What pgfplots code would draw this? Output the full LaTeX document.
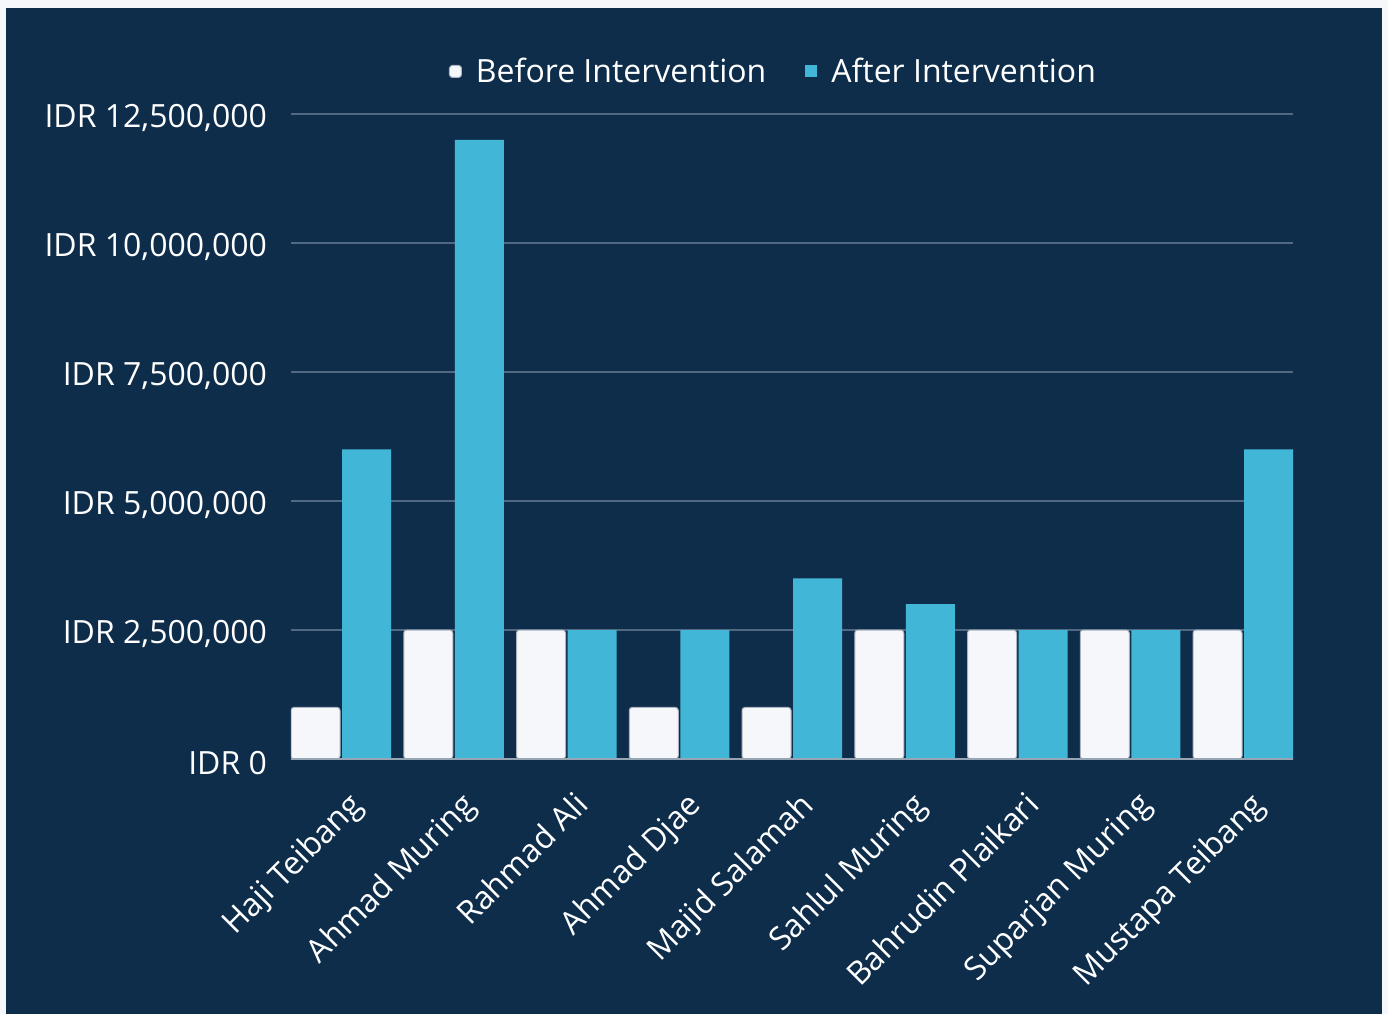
\documentclass[border=0pt]{standalone}
\usepackage{fontspec}
\setmainfont{Open Sans}
\usepackage{pgfplots}
\pgfplotsset{compat=1.18}
\definecolor{navy}{RGB}{14,45,75}
\definecolor{outer}{RGB}{245,247,250}
\definecolor{cyanbar}{RGB}{65,182,214}
\definecolor{whitebar}{RGB}{246,247,250}
\definecolor{gridc}{RGB}{80,104,130}
\definecolor{baredge}{RGB}{170,180,192}
\definecolor{basec}{RGB}{150,165,180}
\begin{document}
\begin{tikzpicture}
\useasboundingbox (0,0) rectangle (694pt,507pt);
\fill[outer] (0,0) rectangle (694pt,507pt);
\fill[navy] (3pt,0) rectangle (691pt,503pt);
\begin{axis}[
  at={(145.5pt,127.5pt)}, anchor=south west,
  scale only axis, width=501pt, height=322.5pt,
  xmin=-0.4435, xmax=8.4435, ymin=0, ymax=12500000,
  ybar=1pt, bar width=24.5pt,
  axis line style={draw=none},
  axis x line*=bottom, axis y line*=left,
  ymajorgrids, grid style={gridc, line width=1pt},
  major tick length=0pt,
  ytick={0,2500000,5000000,7500000,10000000,12500000},
  yticklabels={{IDR 0},{IDR 2,500,000},{IDR 5,000,000},{IDR 7,500,000},{IDR 10,000,000},{IDR 12,500,000}},
  scaled y ticks=false,
  xtick=data,
  xticklabels={Haji Teibang,Ahmad Muring,Rahmad Ali,Ahmad Djae,Majid Salamah,Sahlul Muring,Bahrudin Plaikari,Suparjan Muring,Mustapa Teibang},
  ticklabel style={font=\fontsize{16}{19}\selectfont, text=white},
  yticklabel style={xshift=-8.5pt, yshift=-2pt},
  xticklabel style={rotate=45, anchor=north east, inner sep=0pt, yshift=-12.9pt, xshift=-8.6pt},
  legend style={at={(0.4825,1.066)}, anchor=center, draw=none, fill=none,
    text=white, font=\fontsize{16}{19}\selectfont, legend columns=2,
    /tikz/every odd column/.append style={column sep=5pt},
    /tikz/every even column/.append style={column sep=17.5pt}},
  legend image code/.code={\fill[#1] (0pt,-3pt) rectangle (6pt,3pt);},
]
\addplot[fill=whitebar, draw=baredge, line width=0.5pt, rounded corners=1.5pt] coordinates {
(0,1000000) (1,2500000) (2,2500000) (3,1000000) (4,1000000) (5,2500000) (6,2500000) (7,2500000) (8,2500000)};
\addplot[fill=cyanbar, draw=none] coordinates {
(0,6000000) (1,12000000) (2,2500000) (3,2500000) (4,3500000) (5,3000000) (6,2500000) (7,2500000) (8,6000000)};
\legend{Before Intervention, After Intervention}
\draw[basec, line width=0.8pt] (axis cs:-0.4435,0) -- (axis cs:8.4435,0);
\end{axis}
\end{tikzpicture}
\end{document}
